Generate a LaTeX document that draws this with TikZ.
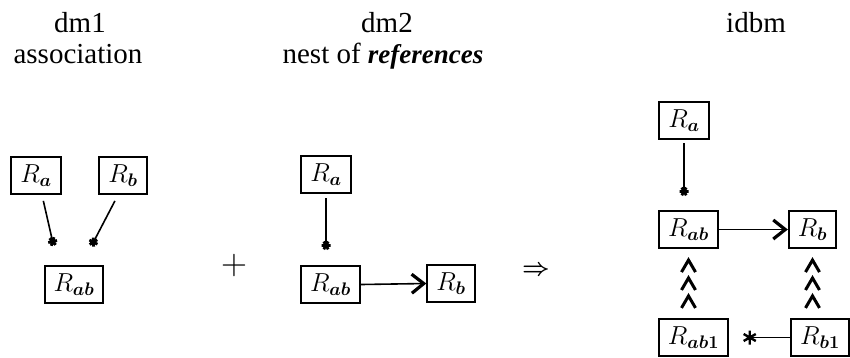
\RequirePackage{fix-cm}
\documentclass[tikz,border=0pt]{standalone}
\usepackage[no-math]{fontspec}
\setmainfont{Liberation Serif}
\usepackage{bm}
\usetikzlibrary{arrows.meta,decorations.markings}

\tikzset{
  rbox/.style={draw, line width=2pt, inner xsep=9pt, minimum height=37pt,
    font=\fontsize{26}{26}\selectfont},
  head/.style={anchor=base, font=\fontsize{29}{29}\selectfont},
  ref/.style={line width=1.6pt, -{Rays[n=6,length=9pt,width=9pt,line width=2.8pt]}},
  bigref/.style={line width=1.6pt, -{Rays[n=6,length=14pt,width=14pt,line width=2.4pt]}},
  assoc/.style={line width=1.6pt, -{Straight Barb[length=12pt,width=19pt,line width=3.2pt]}},
  chevron/.style={line width=3pt},
  isa/.style={postaction={decorate}, decoration={markings,
    mark=at position 0.32 with {\draw[chevron] (-12pt,-7pt) -- (0,0) -- (-12pt,7pt);},
    mark=at position 0.58 with {\draw[chevron] (-12pt,-7pt) -- (0,0) -- (-12pt,7pt);},
    mark=at position 0.84 with {\draw[chevron] (-12pt,-7pt) -- (0,0) -- (-12pt,7pt);}}},
}

\begin{document}
\begin{tikzpicture}[x=1pt,y=-1pt]

    \useasboundingbox (0,0) rectangle (850,357);

    % headings
    \node[head] (hdm1) at (80,32) {dm1};
    \node[head] (hassoc) at (78,63) {association};
    \node[head] (hdm2) at (387,32) {dm2};
    \node[head] (hnest) at (383,63) {nest of {\fontsize{27}{27}\selectfont\textbf{\textit{references}}}};
    \node[head] (hidbm) at (756,32) {idbm};

    % dm1
    \node[rbox] (la) at (36,175.5) {$R_{\bm{a}}$};
    \node[rbox] (lb) at (123,175.5) {$R_{\bm{b}}$};
    \node[rbox] (lab) at (74,284.5) {$R_{\bm{ab}}$};

    \draw[ref, shorten <=6pt, shorten >=19.5pt] ([xshift=6pt]la.south) -- ([xshift=-16pt]lab.north);
    \draw[ref, shorten <=6.7pt, shorten >=21.2pt] ([xshift=-5pt]lb.south) -- ([xshift=7.5pt]lab.north);

    \node[font=\fontsize{36}{36}\selectfont] (plus) at (234,265) {$+$};

    % dm2
    \node[rbox] (ma) at (326,174.5) {$R_{\bm{a}}$};
    \node[rbox] (mab) at (330.5,284.5) {$R_{\bm{ab}}$};
    \node[rbox] (mb) at (451,283.5) {$R_{\bm{b}}$};

    \draw[ref, shorten <=4pt, shorten >=15pt] (ma.south) -- (ma.south |- mab.north);
    \draw[assoc] (mab.east) -- (mb.west);

    \node[font=\fontsize{24}{24}\selectfont] (impl) at (536,271) {$\bm{\Rightarrow}$};

    % idbm
    \node[rbox] (ia) at (684,120.5) {$R_{\bm{a}}$};
    \node[rbox] (iab) at (688.5,229.5) {$R_{\bm{ab}}$};
    \node[rbox] (ib) at (812.5,229.5) {$R_{\bm{b}}$};
    \node[rbox] (iab1) at (693.5,337.5) {$R_{\bm{ab}\mathbf{1}}$};
    \node[rbox] (ib1) at (820,337.5) {$R_{\bm{b}\mathbf{1}}$};

    \draw[ref, shorten <=3pt, shorten >=14pt] (ia.south) -- (ia.south |- iab.north);
    \draw[assoc] (iab.east) -- (ib.west);
    \path[isa] (iab.south |- iab1.north) -- (iab.south);
    \path[isa] (ib.south |- ib1.north) -- (ib.south);
    \draw[bigref, shorten >=14pt] (ib1.west) -- (ib1.west -| iab1.east);

\end{tikzpicture}
\end{document}
